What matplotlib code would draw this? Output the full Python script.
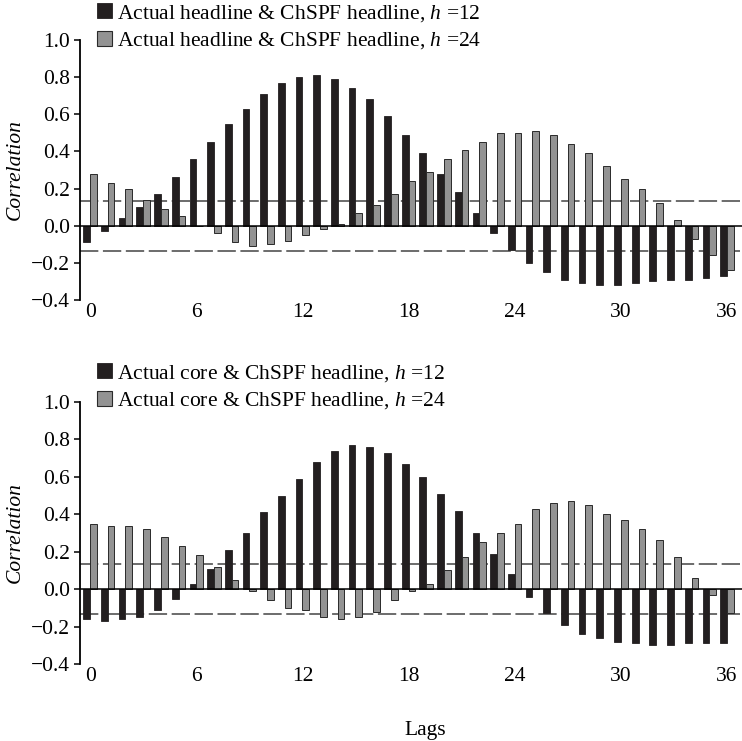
import matplotlib
matplotlib.use("Agg")
import matplotlib.pyplot as plt
from matplotlib.patches import Patch
import numpy as np

# --------------------------------------------------------------------------- #
# data (correlation by lag)
# --------------------------------------------------------------------------- #
lags = list(range(37))

top_h12 = [-0.09, -0.03, 0.04, 0.10, 0.17, 0.26, 0.36, 0.45, 0.55, 0.63, 0.71, 0.77,
           0.80, 0.81, 0.79, 0.74, 0.68, 0.59, 0.49, 0.39, 0.28, 0.18, 0.07, -0.04,
           -0.13, -0.20, -0.25, -0.29, -0.31, -0.32, -0.32, -0.31, -0.30, -0.29, -0.29,
           -0.28, -0.27]
top_h24 = [0.28, 0.23, 0.20, 0.14, 0.09, 0.05, 0.00, -0.04, -0.09, -0.11, -0.10, -0.08,
           -0.05, -0.02, 0.01, 0.07, 0.11, 0.17, 0.24, 0.29, 0.36, 0.41, 0.45, 0.50,
           0.50, 0.51, 0.49, 0.44, 0.39, 0.32, 0.25, 0.20, 0.12, 0.03, -0.07, -0.16,
           -0.24]

bot_h12 = [-0.16, -0.17, -0.16, -0.15, -0.11, -0.05, 0.03, 0.11, 0.21, 0.30, 0.41, 0.50,
           0.59, 0.68, 0.74, 0.77, 0.76, 0.73, 0.67, 0.60, 0.51, 0.42, 0.30, 0.19,
           0.08, -0.04, -0.13, -0.19, -0.24, -0.26, -0.28, -0.29, -0.30, -0.30, -0.29,
           -0.29, -0.29]
bot_h24 = [0.35, 0.34, 0.34, 0.32, 0.28, 0.23, 0.18, 0.12, 0.05, -0.01, -0.06, -0.10,
           -0.11, -0.15, -0.16, -0.15, -0.12, -0.06, -0.01, 0.03, 0.10, 0.17, 0.25,
           0.30, 0.35, 0.43, 0.46, 0.47, 0.45, 0.40, 0.37, 0.32, 0.26, 0.17, 0.06,
           -0.03, -0.13]

band = 0.135   # approximate significance bounds (dashed lines)

top_labels = ["Actual headline & ChSPF headline, $h$ =12",
              "Actual headline & ChSPF headline, $h$ =24"]
bot_labels = ["Actual core & ChSPF headline, $h$ =12",
              "Actual core & ChSPF headline, $h$ =24"]
xticks = [0, 6, 12, 18, 24, 30, 36]
yticks = [-0.4, -0.2, 0.0, 0.2, 0.4, 0.6, 0.8, 1.0]

# --------------------------------------------------------------------------- #
# style
# --------------------------------------------------------------------------- #
plt.rcParams["font.family"] = ["Liberation Serif", "DejaVu Serif"]
plt.rcParams["mathtext.fontset"] = "custom"
plt.rcParams["mathtext.it"] = "Liberation Serif:italic"
plt.rcParams["mathtext.rm"] = "Liberation Serif"

BLACK = "#231f20"
GRAY = "#939393"
EDGE = "#2a2a2a"
W = 0.38
FS = 15.5

W_PX, H_PX = 742, 741
fig = plt.figure(figsize=(W_PX / 100, H_PX / 100), dpi=100)


def panel(y_top, y_bot, v12, v24, labels, legend_top):
    ax = fig.add_axes([80 / W_PX, 1 - y_bot / H_PX, 1 - 80 / W_PX, (y_bot - y_top) / H_PX])
    x = np.array(lags)
    ax.bar(x - W / 2, v12, W, color=BLACK, edgecolor=BLACK, linewidth=0.6, zorder=3)
    ax.bar(x + W / 2, v24, W, color=GRAY, edgecolor=EDGE, linewidth=0.7, zorder=3)
    ax.axhline(0, color="black", lw=1.1, zorder=4)
    for b in (band, -band):
        ax.axhline(b, color="#444444", lw=1.1, dashes=(12, 3), zorder=2)
    ax.set_xlim(-0.57, 36.85)
    ax.set_ylim(-0.4, 1.0)
    ax.set_yticks(yticks)
    ax.set_yticklabels([f"{t:.1f}".replace("-", "\u2212") for t in yticks], fontsize=FS)
    ax.set_xticks(xticks)
    ax.set_xticklabels([str(t) for t in xticks], fontsize=FS)
    ax.tick_params(axis="x", length=0, pad=2)
    ax.tick_params(axis="y", direction="out", length=4, width=1.1, pad=3)
    for s in ("top", "right", "bottom"):
        ax.spines[s].set_visible(False)
    ax.spines["left"].set_linewidth(1.3)
    ax.set_ylabel("Correlation", fontsize=FS, style="italic", labelpad=5)
    handles = [Patch(facecolor=BLACK, edgecolor=BLACK, lw=0.6),
               Patch(facecolor=GRAY, edgecolor=EDGE, lw=0.8)]
    ax.legend(handles, labels, loc="upper left", frameon=False, fontsize=FS,
              bbox_to_anchor=(97 / W_PX, 1 - legend_top / H_PX), bbox_transform=fig.transFigure,
              borderpad=0, borderaxespad=0, handlelength=0.7, handleheight=0.7,
              handletextpad=0.25, labelspacing=0.3)
    return ax


panel(40, 300, top_h12, top_h24, top_labels, 3)
panel(402, 664, bot_h12, bot_h24, bot_labels, 363)
fig.text(425 / W_PX, 1 - 730 / H_PX, "Lags", ha="center", va="center", fontsize=FS)

fig.savefig("out.png", dpi=100)
